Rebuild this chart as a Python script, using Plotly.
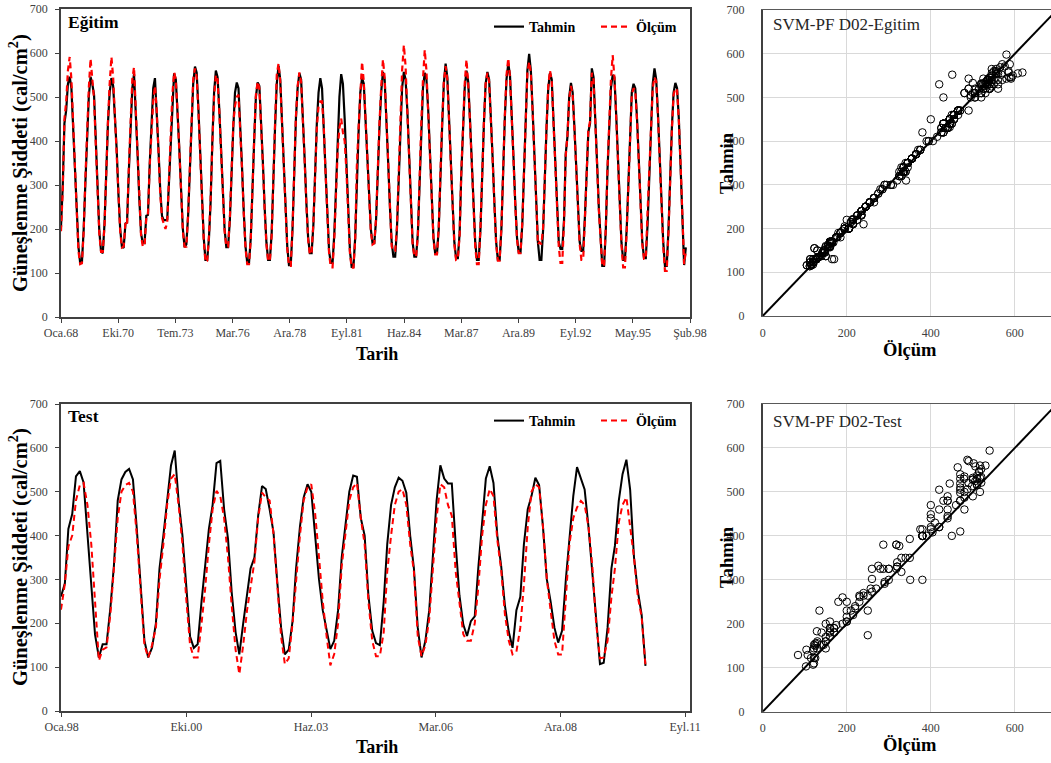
import pandas as pd
import plotly.graph_objects as go

# ---------------- DATA ----------------
# Training period, monthly, Jan 1968 - Dec 1997 (one row per year)
train_tahmin = [
    205, 300, 440, 470, 530, 546, 520, 440, 350, 250, 160, 123,  # 1968
    125, 200, 300, 420, 500, 546, 530, 505, 400, 290, 195, 150,  # 1969
    145, 215, 330, 440, 510, 543, 525, 460, 380, 280, 200, 160,  # 1970
    157, 212, 215, 330, 420, 520, 552, 470, 370, 270, 190, 168,  # 1971
    168, 230, 232, 350, 440, 520, 543, 470, 380, 290, 230, 220,  # 1972
    220, 222, 300, 400, 500, 554, 540, 470, 380, 290, 200, 159,  # 1973
    165, 230, 330, 450, 530, 569, 555, 470, 370, 270, 180, 130,  # 1974
    130, 180, 260, 400, 510, 560, 545, 470, 380, 280, 200, 159,  # 1975
    159, 220, 330, 430, 510, 533, 520, 440, 340, 240, 160, 123,  # 1976
    123, 180, 300, 400, 500, 533, 525, 450, 350, 250, 170, 130,  # 1977
    130, 190, 320, 430, 530, 571, 540, 450, 340, 240, 160, 118,  # 1978
    118, 200, 330, 450, 520, 554, 540, 460, 360, 260, 180, 145,  # 1979
    145, 210, 330, 440, 510, 543, 520, 440, 330, 240, 150, 123,  # 1980
    123, 190, 300, 420, 500, 552, 530, 450, 340, 240, 150, 114,  # 1981
    114, 180, 310, 420, 510, 543, 530, 450, 360, 270, 200, 168,  # 1982
    168, 220, 330, 430, 510, 557, 540, 460, 350, 250, 170, 137,  # 1983
    137, 200, 320, 440, 520, 557, 540, 470, 360, 260, 170, 137,  # 1984
    137, 190, 310, 430, 520, 555, 540, 470, 370, 270, 180, 144,  # 1985
    144, 200, 330, 432, 530, 576, 545, 460, 360, 260, 170, 134,  # 1986
    134, 190, 320, 430, 520, 560, 535, 450, 350, 250, 170, 130,  # 1987
    130, 200, 330, 440, 530, 557, 540, 460, 360, 260, 170, 130,  # 1988
    130, 200, 330, 450, 540, 576, 550, 470, 360, 260, 180, 147,  # 1989
    147, 210, 330, 460, 560, 598, 560, 470, 370, 260, 170, 130,  # 1990
    130, 200, 320, 430, 520, 555, 540, 450, 340, 240, 170, 155,  # 1991
    155, 220, 370, 410, 500, 532, 510, 430, 340, 240, 170, 150,  # 1992
    150, 230, 330, 420, 440, 565, 545, 460, 350, 250, 170, 116,  # 1993
    116, 200, 330, 440, 520, 550, 545, 460, 360, 260, 170, 130,  # 1994
    130, 200, 300, 420, 510, 530, 520, 450, 350, 250, 170, 134,  # 1995
    134, 210, 330, 440, 530, 565, 540, 460, 350, 250, 170, 116,  # 1996
    116, 200, 320, 430, 510, 532, 520, 450, 340, 230, 118, 158,  # 1997
]
train_olcum = [
    195, 290, 450, 490, 560, 591, 540, 430, 340, 245, 150, 120,  # 1968
    122, 195, 310, 430, 520, 587, 540, 495, 390, 285, 190, 148,  # 1969
    148, 210, 335, 445, 530, 591, 545, 450, 370, 275, 195, 158,  # 1970
    160, 215, 210, 340, 430, 540, 568, 470, 365, 265, 185, 161,  # 1971
    161, 225, 235, 345, 430, 490, 525, 470, 375, 280, 225, 213,  # 1972
    200, 215, 295, 395, 505, 556, 540, 465, 375, 285, 195, 160,  # 1973
    160, 235, 335, 455, 540, 565, 545, 465, 365, 265, 175, 125,  # 1974
    128, 185, 265, 395, 500, 550, 540, 465, 375, 275, 195, 160,  # 1975
    160, 225, 340, 440, 480, 500, 505, 430, 335, 235, 155, 120,  # 1976
    120, 178, 305, 405, 505, 535, 520, 445, 345, 245, 165, 128,  # 1977
    128, 185, 330, 440, 550, 576, 535, 445, 335, 235, 155, 116,  # 1978
    116, 205, 335, 455, 525, 556, 535, 455, 355, 255, 175, 142,  # 1979
    147, 215, 335, 430, 480, 490, 490, 430, 325, 235, 145, 113,  # 1980
    113, 180, 290, 380, 430, 451, 420, 400, 330, 235, 145, 112,  # 1981
    112, 175, 341, 430, 520, 580, 535, 445, 355, 265, 195, 165,  # 1982
    168, 225, 335, 440, 520, 585, 545, 455, 345, 245, 160, 150,  # 1983
    150, 205, 330, 450, 560, 618, 570, 465, 355, 255, 165, 140,  # 1984
    137, 185, 320, 440, 540, 607, 560, 465, 365, 265, 175, 142,  # 1985
    142, 205, 335, 445, 535, 570, 540, 455, 355, 255, 165, 130,  # 1986
    132, 185, 325, 435, 530, 585, 530, 445, 345, 245, 160, 120,  # 1987
    120, 205, 335, 445, 530, 555, 535, 455, 355, 255, 165, 128,  # 1988
    128, 205, 335, 455, 550, 588, 545, 465, 355, 255, 175, 145,  # 1989
    145, 215, 335, 465, 555, 580, 555, 465, 365, 255, 165, 170,  # 1990
    165, 205, 325, 435, 525, 560, 535, 445, 335, 235, 160, 123,  # 1991
    123, 215, 365, 415, 495, 525, 505, 425, 335, 235, 165, 130,  # 1992
    130, 225, 335, 425, 445, 555, 540, 455, 345, 245, 165, 116,  # 1993
    116, 205, 335, 445, 540, 595, 545, 455, 355, 255, 165, 113,  # 1994
    113, 195, 305, 425, 505, 520, 515, 445, 345, 245, 165, 132,  # 1995
    132, 240, 330, 430, 520, 545, 535, 455, 345, 245, 160, 105,  # 1996
    105, 195, 325, 425, 505, 520, 515, 445, 345, 235, 120, 150,  # 1997
]

# Test period, monthly, Jan 1998 - Nov 2010
test_tahmin = [
    261, 291, 415, 449, 535, 547, 521, 410, 300, 174, 122, 152,  # 1998
    152, 235, 330, 480, 528, 545, 552, 528, 415, 280, 160, 122,  # 1999
    144, 200, 325, 400, 480, 560, 594, 480, 400, 280, 170, 144,  # 2000
    152, 250, 332, 415, 470, 565, 570, 460, 393, 270, 180, 129,  # 2001
    200, 264, 325, 350, 445, 513, 506, 460, 408, 295, 190, 129,  # 2002
    140, 205, 325, 420, 487, 517, 500, 400, 300, 230, 180, 141,  # 2003
    160, 230, 350, 430, 500, 537, 534, 440, 400, 264, 183, 155,  # 2004
    150, 250, 380, 470, 510, 532, 525, 498, 400, 325, 190, 122,  # 2005
    160, 230, 340, 480, 560, 530, 519, 519, 380, 264, 197, 171,  # 2006
    205, 216, 325, 440, 530, 558, 520, 400, 330, 240, 180, 144,  # 2007
    230, 260, 380, 460, 490, 532, 515, 420, 300, 250, 190, 156,  # 2008
    183, 302, 400, 490, 556, 530, 505, 420, 318, 205, 107, 110,  # 2009
    190, 325, 377, 480, 540, 573, 505, 350, 273, 220, 103,       # 2010
]
test_olcum = [
    231, 290, 375, 400, 480, 515, 520, 470, 380, 250, 115, 140,  # 1998
    145, 220, 320, 440, 500, 515, 520, 500, 400, 270, 150, 122,  # 1999
    150, 190, 300, 380, 470, 530, 540, 470, 380, 257, 150, 122,  # 2000
    122, 200, 275, 380, 460, 502, 490, 440, 350, 240, 140, 84,   # 2001
    150, 230, 287, 340, 440, 498, 487, 480, 404, 290, 170, 107,  # 2002
    120, 200, 300, 400, 480, 510, 517, 450, 351, 250, 170, 104,  # 2003
    130, 200, 330, 410, 480, 510, 520, 440, 380, 250, 160, 125,  # 2004
    125, 180, 318, 400, 470, 500, 506, 470, 380, 318, 170, 125,  # 2005
    150, 210, 320, 440, 517, 510, 470, 445, 318, 240, 175, 160,  # 2006
    160, 200, 280, 400, 470, 506, 490, 390, 320, 220, 160, 129,  # 2007
    135, 190, 287, 420, 500, 517, 510, 420, 300, 230, 160, 129,  # 2008
    129, 260, 380, 440, 464, 479, 470, 420, 330, 200, 120, 122,  # 2009
    160, 260, 325, 430, 470, 487, 420, 350, 260, 215, 103,       # 2010
]

train_tick_labels = ["Oca.68", "Eki.70", "Tem.73", "Mar.76", "Ara.78", "Eyl.81",
                     "Haz.84", "Mar.87", "Ara.89", "Eyl.92", "May.95", "Şub.98"]
test_tick_labels = ["Oca.98", "Eki.00", "Haz.03", "Mar.06", "Ara.08", "Eyl.11"]
diag = [0, 700]

# ---------------- LAYOUT HELPERS ----------------
W, H = 1051, 763
FONT = "Liberation Serif"


def px_x(v):
    return v / W


def px_y(v):
    return 1 - v / H


train_dates = pd.date_range("1968-01-01", periods=len(train_tahmin), freq="MS")
test_dates = pd.date_range("1998-01-01", periods=len(test_tahmin), freq="MS")

train_ticks = pd.date_range("1968-01-01", periods=len(train_tick_labels), freq="1000D")
test_ticks = pd.date_range("1998-01-06", periods=len(test_tick_labels), freq="1000D")
train_range = [pd.Timestamp("1968-01-01"), train_ticks[-1]]
test_range = [pd.Timestamp("1998-01-01"), pd.Timestamp("1998-01-01") + pd.Timedelta(days=5044)]

fig = go.Figure()

# time series
fig.add_trace(go.Scatter(x=train_dates, y=train_tahmin, mode="lines", name="Tahmin",
                         line=dict(color="black", width=2.2), xaxis="x", yaxis="y",
                         legend="legend"))
fig.add_trace(go.Scatter(x=train_dates, y=train_olcum, mode="lines", name="Ölçüm",
                         line=dict(color="#ff0000", width=2.2, dash="6px,4px"),
                         xaxis="x", yaxis="y", legend="legend"))
fig.add_trace(go.Scatter(x=test_dates, y=test_tahmin, mode="lines", name="Tahmin",
                         line=dict(color="black", width=2), xaxis="x2", yaxis="y2",
                         legend="legend2"))
fig.add_trace(go.Scatter(x=test_dates, y=test_olcum, mode="lines", name="Ölçüm",
                         line=dict(color="#ff0000", width=2, dash="6px,4px"),
                         xaxis="x2", yaxis="y2", legend="legend2"))

# scatter panels
marker = dict(symbol="circle-open", size=7.5, color="black", line=dict(width=1, color="black"))
fig.add_trace(go.Scatter(x=train_olcum, y=train_tahmin, mode="markers", marker=marker,
                         showlegend=False, xaxis="x3", yaxis="y3"))
fig.add_trace(go.Scatter(x=diag, y=diag, mode="lines", line=dict(color="black", width=2),
                         showlegend=False, xaxis="x3", yaxis="y3"))
fig.add_trace(go.Scatter(x=test_olcum, y=test_tahmin, mode="markers", marker=marker,
                         showlegend=False, xaxis="x4", yaxis="y4"))
fig.add_trace(go.Scatter(x=diag, y=diag, mode="lines", line=dict(color="black", width=2),
                         showlegend=False, xaxis="x4", yaxis="y4"))

tickfont = dict(family=FONT, size=12, color="#404040")
frame = "#404040"

ts_x_common = dict(type="date", showgrid=False, zeroline=False, showline=True, mirror=True,
                   linecolor=frame, linewidth=1.5, ticks="outside", ticklen=4,
                   tickcolor=frame, tickfont=tickfont, automargin=False)
ts_y_common = dict(range=[0, 700], dtick=100, showgrid=False, zeroline=False, showline=True,
                   mirror=True, linecolor=frame, linewidth=1.5, ticks="outside", ticklen=4,
                   tickcolor=frame, tickfont=tickfont, ticklabelstandoff=5, automargin=False)
sc_x_common = dict(range=[0, 686], tickvals=[0, 200, 400, 600], showgrid=True,
                   gridcolor="#d9d9d9", gridwidth=1, zeroline=False, showline=True,
                   mirror=True, linecolor="#595959", linewidth=1.3, ticks="",
                   tickfont=tickfont, ticklabelstandoff=5, automargin=False)
sc_y_common = dict(range=[0, 700], dtick=100, showgrid=True, gridcolor="#d9d9d9",
                   gridwidth=1, zeroline=False, showline=True, mirror=False,
                   linecolor="#404040", linewidth=1.5, ticks="", tickfont=tickfont,
                   ticklabelstandoff=14, automargin=False)

fig.update_layout(
    width=W, height=H,
    margin=dict(l=0, r=0, t=0, b=0, autoexpand=False),
    paper_bgcolor="white", plot_bgcolor="white",
    font=dict(family=FONT, color="black"),
    xaxis=dict(domain=[px_x(61), px_x(690)], anchor="y", range=train_range,
               tickvals=list(train_ticks), ticktext=train_tick_labels, **ts_x_common),
    yaxis=dict(domain=[px_y(317), px_y(9)], anchor="x", **ts_y_common),
    xaxis2=dict(domain=[px_x(61), px_x(690)], anchor="y2", range=test_range,
                tickvals=list(test_ticks), ticktext=test_tick_labels, **ts_x_common),
    yaxis2=dict(domain=[px_y(711), px_y(404)], anchor="x2", **ts_y_common),
    xaxis3=dict(domain=[px_x(762.7), 1.0], anchor="y3", **sc_x_common),
    yaxis3=dict(domain=[px_y(316), px_y(10)], anchor="x3", **sc_y_common),
    xaxis4=dict(domain=[px_x(762.7), 1.0], anchor="y4", **sc_x_common),
    yaxis4=dict(domain=[px_y(711.7), px_y(404)], anchor="x4", **sc_y_common),
    legend=dict(orientation="h", x=px_x(489), y=px_y(27), xanchor="left", yanchor="middle",
                font=dict(family=FONT, size=14, color="black", weight="bold"),
                bgcolor="rgba(0,0,0,0)", entrywidth=62, itemwidth=30),
    legend2=dict(orientation="h", x=px_x(489), y=px_y(421), xanchor="left", yanchor="middle",
                 font=dict(family=FONT, size=14, color="black", weight="bold"),
                 bgcolor="rgba(0,0,0,0)", entrywidth=62, itemwidth=30),
    hovermode=False,
)

ann = []
# panel labels
ann.append(dict(text="<b>Eğitim</b>", x=px_x(66), y=px_y(22), xanchor="left", yanchor="middle",
                font=dict(size=17.5, family=FONT, color="black")))
ann.append(dict(text="<b>Test</b>", x=px_x(66), y=px_y(416), xanchor="left", yanchor="middle",
                font=dict(size=17.5, family=FONT, color="black")))
ann.append(dict(text="SVM-PF D02-Egitim", x=px_x(771), y=px_y(24), xanchor="left",
                yanchor="middle", font=dict(size=17, family=FONT, color="#262626")))
ann.append(dict(text="SVM-PF D02-Test", x=px_x(771), y=px_y(421), xanchor="left",
                yanchor="middle", font=dict(size=17, family=FONT, color="#262626")))
# axis titles
for yc, yt in [(354, 163), (747, 557)]:
    ann.append(dict(text="<b>Tarih</b>", x=px_x(377), y=px_y(yc), xanchor="center",
                    yanchor="middle", font=dict(size=18, family=FONT, color="black")))
    ann.append(dict(text="<b>Güneşlenme Şiddeti (cal/cm<sup>2</sup>)</b>", x=px_x(18),
                    y=px_y(yt), xanchor="center", yanchor="middle", textangle=-90,
                    font=dict(size=20.5, family=FONT, color="black")))
for yc, yt in [(350, 163), (745, 557)]:
    ann.append(dict(text="<b>Ölçüm</b>", x=px_x(910), y=px_y(yc), xanchor="center",
                    yanchor="middle", font=dict(size=18.5, family=FONT, color="black")))
    ann.append(dict(text="<b>Tahmin</b>", x=px_x(727), y=px_y(yt), xanchor="center",
                    yanchor="middle", textangle=-90,
                    font=dict(size=18.5, family=FONT, color="black")))
for a in ann:
    a.update(xref="paper", yref="paper", showarrow=False)
fig.update_layout(annotations=ann)

fig.write_html(
    "out.html",
    config={"displayModeBar": False},
    post_script="document.body.style.margin='0px';document.body.style.padding='0px';"
                "document.body.style.overflow='hidden';",
)
